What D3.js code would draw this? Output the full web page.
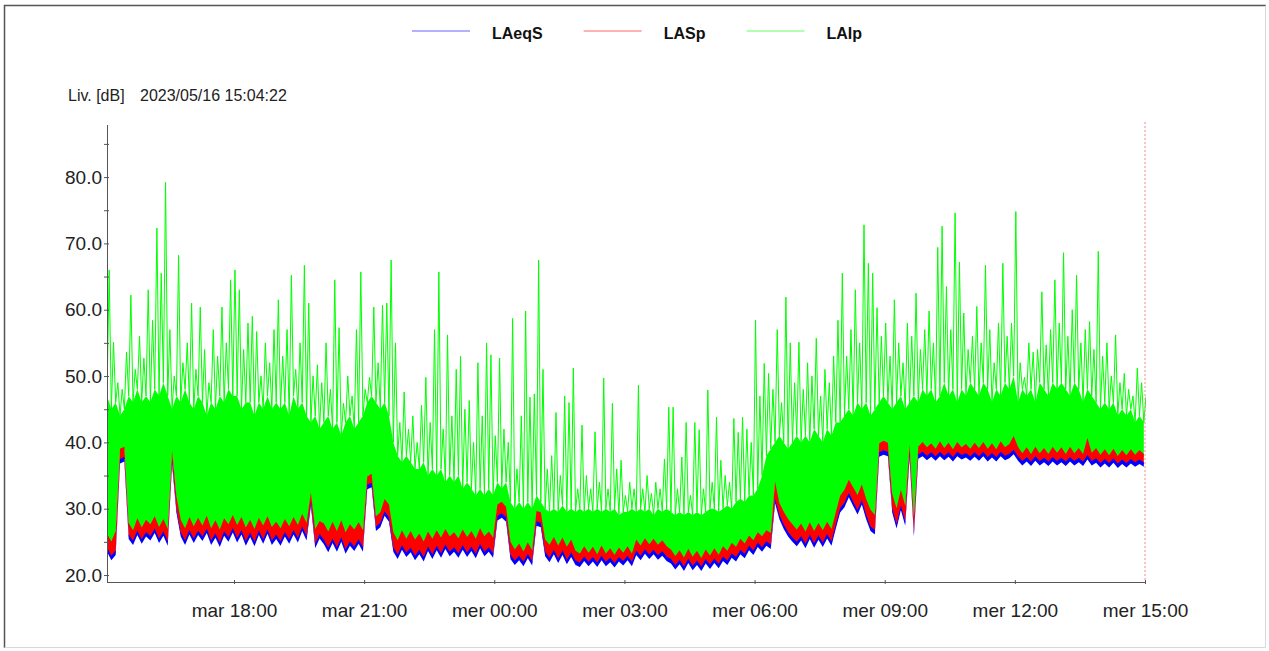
<!DOCTYPE html>
<html>
<head>
<meta charset="utf-8">
<script src="https://cdn.jsdelivr.net/npm/d3@7"></script>
<style>
  body { margin: 0; background: #fff; }
  svg { display: block; font-family: 'Liberation Sans', Arial, sans-serif; }
</style>
</head>
<body>
<script>
// Size of the page
const w = 1269;
const h = 651;

// Series names and colours (legend order)
const seriesNames = ['LAeqS', 'LASp', 'LAIp'];
const seriesColors = ['#0000ff', '#ff0000', '#00ff00'];

// Recording start / end of the time axis, one sample every 6 minutes
const startTime = '2023-05-16 15:04:22';
const endTime = '2023-05-17 15:00:00';
const stepMinutes = 6;
const dayNames = ['dim', 'lun', 'mar', 'mer', 'jeu', 'ven', 'sam'];

// LASp (red), one row per hour
const lasp = [
  25.8, 24.6, 26.2, 38.6, 38.9, 27.4, 26.3, 28.1, 26.7, 27.9,
  27.2, 28.4, 26.8, 28.0, 26.5, 38.3, 31.5, 27.9, 26.6, 28.3,
  26.9, 28.2, 27.0, 28.5, 26.6, 27.8, 26.4, 28.1, 27.2, 28.6,
  27.1, 28.3, 26.7, 27.9, 26.5, 28.2, 27.0, 28.4, 26.8, 27.6,
  26.6, 28.0, 26.9, 28.3, 27.1, 28.8, 27.4, 32.0, 26.5, 27.7,
  27.3, 26.1, 27.6, 26.2, 27.8, 26.0, 27.2, 26.4, 27.5, 26.3,
  34.4, 34.8, 28.4, 29.0, 31.0, 30.2, 26.0, 24.8, 26.3, 25.0,
  26.2, 24.9, 25.8, 24.6, 26.1, 25.0, 26.3, 25.2, 26.5, 25.4,
  26.0, 25.1, 26.4, 25.3, 26.2, 25.0, 26.6, 25.4, 26.1, 25.2,
  30.2, 30.6, 29.8, 24.6, 23.4, 24.3, 23.1, 24.5, 23.3, 29.2,
  29.0, 24.9, 24.1, 25.3, 24.0, 25.2, 23.8, 24.9, 23.2, 22.8,
  23.9, 22.9, 23.8, 22.7, 24.0, 22.8, 23.6, 22.6, 23.7, 22.9,
  23.9, 22.8, 24.9, 24.0, 25.1, 24.2, 25.0, 24.1, 24.8, 23.9,
  23.4, 22.4, 23.3, 22.2, 23.5, 22.3, 23.2, 22.1, 23.4, 22.5,
  23.6, 22.6, 23.9, 23.2, 24.4, 23.8, 25.0, 24.3, 25.5, 24.8,
  26.0, 25.4, 26.3, 25.9, 33.6, 30.4, 29.1, 28.0, 27.2, 26.4,
  27.3, 26.1, 27.5, 26.2, 27.4, 26.3, 27.6, 26.5, 29.0, 31.5,
  32.4, 33.9, 32.8, 31.6, 33.2, 31.0, 29.4, 28.6, 39.4, 39.8,
  39.5, 31.8, 29.6, 32.4, 30.0, 39.2, 28.3, 38.9, 39.6, 38.8,
  39.4, 38.6, 39.7, 38.7, 39.5, 38.5, 39.6, 38.8, 39.3, 38.6,
  39.5, 38.7, 39.6, 38.6, 39.4, 38.5, 39.7, 38.8, 39.3, 40.5,
  38.9, 37.9, 38.8, 37.8, 38.9, 37.9, 38.7, 37.8, 38.9, 38.0,
  38.8, 37.8, 38.9, 37.9, 38.7, 37.8, 40.2, 38.0, 38.7, 37.7,
  38.5, 37.6, 38.6, 37.5, 38.4, 37.6, 38.5, 37.7, 38.4, 37.8
];

// LAeqS (blue)
const laeqs = [
  23.9, 22.6, 23.4, 37.2, 37.5, 25.8, 24.9, 26.4, 25.1, 26.2,
  25.6, 26.7, 25.2, 26.3, 24.8, 37.0, 29.8, 26.2, 24.9, 26.5,
  25.2, 26.4, 25.5, 26.7, 24.9, 26.0, 24.6, 26.3, 25.4, 26.8,
  25.3, 26.5, 24.8, 26.1, 24.7, 26.4, 25.1, 26.6, 24.9, 25.8,
  24.8, 26.2, 25.1, 26.5, 25.3, 27.0, 25.6, 30.8, 24.4, 25.9,
  25.0, 23.8, 25.2, 23.9, 25.4, 23.6, 24.8, 24.0, 25.1, 23.9,
  33.3, 33.6, 27.0, 27.6, 29.3, 28.4, 23.9, 22.8, 24.2, 23.1,
  23.8, 22.6, 23.5, 22.4, 24.0, 22.8, 24.1, 23.0, 24.3, 23.2,
  23.9, 23.0, 24.2, 23.1, 24.0, 22.9, 24.4, 23.2, 23.9, 23.0,
  28.6, 29.0, 28.4, 22.8, 21.9, 22.6, 21.7, 22.9, 21.8, 27.8,
  27.6, 23.2, 22.3, 23.5, 22.2, 23.4, 22.0, 23.1, 21.9, 21.6,
  22.5, 21.7, 22.4, 21.6, 22.6, 21.7, 22.3, 21.5, 22.4, 21.8,
  22.6, 21.7, 23.4, 22.6, 23.6, 22.8, 23.5, 22.7, 23.3, 22.5,
  22.1, 21.2, 22.0, 21.0, 22.2, 21.1, 21.9, 21.0, 22.1, 21.3,
  22.2, 21.4, 22.5, 21.9, 23.0, 22.4, 23.5, 22.9, 24.1, 23.4,
  24.6, 23.9, 24.8, 24.3, 31.2, 28.8, 27.3, 26.2, 25.4, 24.7,
  25.6, 24.4, 25.8, 24.5, 25.7, 24.6, 25.9, 24.8, 27.4, 29.8,
  30.6, 32.1, 30.8, 29.5, 31.0, 28.8, 27.0, 26.5, 38.2, 38.5,
  38.3, 29.8, 27.4, 30.2, 27.8, 38.0, 26.2, 37.9, 38.3, 37.7,
  38.2, 37.6, 38.3, 37.7, 38.2, 37.5, 38.3, 37.8, 38.1, 37.6,
  38.2, 37.6, 38.3, 37.5, 38.1, 37.5, 38.3, 37.7, 38.0, 38.6,
  37.6, 36.9, 37.5, 36.8, 37.6, 36.9, 37.4, 36.8, 37.5, 36.9,
  37.4, 36.8, 37.5, 36.9, 37.4, 36.8, 37.8, 36.9, 37.3, 36.6,
  37.2, 36.6, 37.3, 36.5, 37.1, 36.6, 37.2, 36.7, 37.1, 36.7
];

// LAIp (green): dense level of each sample and its peak
const laipBody = [
  47, 45, 46, 44, 45, 47, 46, 48, 46, 47,
  46, 48, 47, 49, 47, 45, 47, 46, 48, 46,
  45, 47, 46, 44, 46, 45, 47, 46, 48, 47,
  47, 45, 46, 46, 44, 46, 45, 47, 45, 46,
  45, 46, 44, 47, 45, 46, 44, 43, 44, 42,
  43, 44, 42, 43, 41, 43, 44, 42, 43, 44,
  46, 47, 46, 45, 46, 44, 40, 38, 37, 38,
  37, 36, 36, 37, 35, 36, 35, 36, 34, 35,
  34, 35, 33, 34, 33, 32, 33, 32, 33, 32,
  34, 33, 34, 31, 30, 31, 30, 31, 30, 32,
  31, 30, 29.5, 30, 29.5, 30.5, 29.5, 30, 29.5, 30,
  29.5, 30, 29.5, 30, 29.5, 30, 29.5, 30, 29, 29.5,
  29.5, 30, 29.5, 30, 29.5, 30, 29, 30, 29.5, 30,
  29.5, 29, 29.5, 29, 29.5, 29, 29.5, 29, 29.5, 30,
  30, 29.5, 30, 30.5, 30, 31, 31.5, 31, 32, 32,
  33, 35, 38, 39, 40, 41, 40, 39, 40, 41,
  40, 41, 40, 42, 41, 40, 42, 41, 43, 43,
  44, 45, 44, 46, 45, 46, 44, 45, 46, 47,
  46, 45, 46, 47, 45, 46, 47, 46, 48, 47,
  48, 46, 47, 49, 47, 48, 46, 48, 47, 49,
  48, 47, 49, 48, 46, 48, 47, 49, 48, 50,
  46, 48, 47, 48, 46, 49, 48, 47, 49, 48,
  49, 48, 47, 49, 48, 46, 48, 47, 46, 45,
  46, 45, 46, 44, 45, 44, 45, 43, 44, 43
];

const laipPeak = [
  66, 55.1, 49, 48, 53.6, 62.2, 51, 56, 52.7, 63,
  58.4, 72.3, 65.5, 79.2, 57, 50, 68.2, 52, 55, 61,
  51, 60.4, 54, 49, 57, 53, 60.4, 55, 64.5, 66,
  63, 54, 58, 59, 56.7, 50, 55, 52, 57, 61.5,
  53, 57, 65.2, 51, 55, 66.7, 61, 50, 51.7, 49,
  55, 48, 64.5, 57.3, 45.9, 50, 47, 57, 65.7, 48,
  49.8, 60.4, 52, 60.7, 61, 67.5, 55, 43, 47.6, 42,
  44, 40, 45.6, 49.8, 43, 57, 65.7, 42, 56.2, 44,
  51, 53, 45, 46.3, 40, 52, 44, 55, 53.2, 41,
  52.7, 42, 40, 58.7, 36, 44, 59.8, 46.8, 47.3, 67.5,
  51, 36, 38, 44.5, 35, 47, 46, 51.2, 33, 42.6,
  35, 33, 41.6, 34, 49.7, 33, 45.9, 36, 37.3, 32,
  34, 33, 48.6, 33, 35, 32.3, 34, 33, 37.5, 45.3,
  45.3, 33, 37.8, 43, 32, 43, 41.9, 33, 47.9, 34,
  43.8, 37.3, 35, 34, 43.6, 41.5, 43.8, 42, 40, 58.4,
  47, 51.9, 50.4, 48, 57, 46, 61.9, 55, 49, 55.1,
  48, 52, 50, 55.7, 47, 51, 49, 53, 58.4, 65.5,
  53, 57, 63, 55, 72.8, 67, 65.5, 60.3, 56, 58,
  53, 61.5, 55, 52, 58, 56, 62.5, 54, 57, 59.8,
  55, 69.4, 72.6, 63.5, 57, 74.6, 67.2, 59.5, 54, 56,
  60.5, 55, 66.7, 57, 52, 58, 67, 56, 58, 74.8,
  52, 49.8, 55, 53.6, 54, 62.7, 54.7, 57, 64.5, 58,
  68.6, 56, 60, 65.2, 55, 57, 58.2, 54, 68.8, 53,
  55, 50, 56.2, 49, 50.4, 48, 47, 51.2, 49, 46.9
];

// Plot area
const plotLeft = 107;
const plotRight = 1145;
const plotTop = 125;
const plotBottom = 582;

const parseTime = d3.timeParse('%Y-%m-%d %H:%M:%S');
const t0 = parseTime(startTime);
const t1 = parseTime(endTime);
const times = lasp.map((d, i) => d3.timeMinute.offset(t0, i * stepMinutes));

const x = d3.scaleTime().domain([t0, t1]).range([plotLeft, plotRight]);
const y = d3.scaleLinear().domain([18.95, 87.85]).range([plotBottom, plotTop]);

const svg = d3
  .select('body')
  .append('svg')
  .attr('width', w)
  .attr('height', h);

// Sunken frame round the page
svg.append('path')
  .attr('d', `M4.5,${h - 3}V5.5H${w - 3}`)
  .attr('fill', 'none')
  .attr('stroke', '#555')
  .attr('stroke-width', 1.5);
svg.append('path')
  .attr('d', `M${w - 3.5},5.5V${h - 3.5}H4.5`)
  .attr('fill', 'none')
  .attr('stroke', '#d8d8d8')
  .attr('stroke-width', 1);

// Legend
let lx = 412;
seriesNames.forEach((name, k) => {
  svg.append('line')
    .attr('x1', lx).attr('x2', lx + 58)
    .attr('y1', 31).attr('y2', 31)
    .attr('stroke', seriesColors[k])
    .attr('stroke-opacity', 0.6)
    .attr('stroke-width', 1.2);
  const txt = svg.append('text')
    .attr('x', lx + 80)
    .attr('y', 39)
    .attr('font-size', 16)
    .attr('font-weight', 'bold')
    .attr('fill', '#111')
    .text(name);
  lx = lx + 80 + txt.node().getComputedTextLength() + 41;
});

// Title line
svg.append('text')
  .attr('x', 68).attr('y', 101)
  .attr('font-size', 16)
  .attr('fill', '#222')
  .text('Liv. [dB]');
svg.append('text')
  .attr('x', 140).attr('y', 101)
  .attr('font-size', 16)
  .attr('fill', '#222')
  .text(d3.timeFormat('%Y/%m/%d %H:%M:%S')(t0));

// Clip the series to the plot
svg.append('clipPath')
  .attr('id', 'plot-clip')
  .append('rect')
  .attr('x', plotLeft)
  .attr('y', plotTop - 5)
  .attr('width', plotRight - plotLeft + 1)
  .attr('height', plotBottom - plotTop + 5);

const plot = svg.append('g').attr('clip-path', 'url(#plot-clip)');

// LAIp: solid dense band plus the spiky line on top of it
const bandArea = d3.area()
  .x((d, i) => x(times[i]))
  .y0((d, i) => y(lasp[i]))
  .y1(d => y(d));
plot.append('path')
  .datum(laipBody)
  .attr('d', bandArea)
  .attr('fill', seriesColors[2]);

const greenPts = [];
times.forEach((t, i) => {
  greenPts.push([t, laipBody[i]]);
  greenPts.push([d3.timeMinute.offset(t, stepMinutes / 2), laipPeak[i]]);
});
const line = d3.line()
  .x(d => x(d[0]))
  .y(d => y(d[1]));
plot.append('path')
  .datum(greenPts)
  .attr('d', line)
  .attr('fill', 'none')
  .attr('stroke', seriesColors[2])
  .attr('stroke-width', 1);

// LASp: dense red trace reaching down to the LAeqS level
const redBand = d3.area()
  .x((d, i) => x(times[i]))
  .y0((d, i) => y(laeqs[i]))
  .y1(d => y(d) - 3);
plot.append('path')
  .datum(lasp)
  .attr('d', redBand)
  .attr('fill', seriesColors[1]);

// LAeqS: thin blue trace along the bottom
const blueTrace = d3.area()
  .x((d, i) => x(times[i]))
  .y0(d => y(d) + 2.5)
  .y1(d => y(d) - 2);
plot.append('path')
  .datum(laeqs)
  .attr('d', blueTrace)
  .attr('fill', seriesColors[0]);

// Red dotted marker at the end of the recording
svg.append('line')
  .attr('x1', x(t1)).attr('x2', x(t1))
  .attr('y1', 122).attr('y2', plotBottom)
  .attr('stroke', '#f08a8a')
  .attr('stroke-width', 1)
  .attr('stroke-dasharray', '2,2');

// Y axis
const yAxis = d3.axisLeft(y)
  .tickValues(d3.range(20, 86, 5))
  .tickSizeInner(3)
  .tickSizeOuter(0)
  .tickPadding(2)
  .tickFormat(d => (d % 10 === 0 ? d3.format('.1f')(d) : ''));
const gy = svg.append('g')
  .attr('transform', `translate(${plotLeft},0)`)
  .call(yAxis);
gy.select('.domain').attr('d', `M0.5,${plotTop}V${plotBottom}`).attr('stroke', '#555');
gy.selectAll('.tick line').attr('x1', 2).attr('x2', -3).attr('stroke', '#555');
gy.selectAll('.tick text')
  .attr('font-size', 19)
  .attr('font-family', "'Liberation Sans', Arial, sans-serif")
  .attr('fill', '#222');

// X axis
const xAxis = d3.axisBottom(x)
  .ticks(d3.timeHour.every(3))
  .tickSizeInner(3)
  .tickSizeOuter(0)
  .tickFormat(d => dayNames[d.getDay()] + ' ' + d3.timeFormat('%H:%M')(d));
const gx = svg.append('g')
  .attr('transform', `translate(0,${plotBottom})`)
  .call(xAxis);
gx.select('.domain').attr('d', `M${plotLeft},0.5H${plotRight}`).attr('stroke', '#555');
gx.selectAll('.tick line').attr('y1', -2).attr('y2', 2).attr('stroke', '#555');
gx.selectAll('.tick text')
  .attr('y', 35)
  .attr('dy', 0)
  .attr('font-size', 19)
  .attr('font-family', "'Liberation Sans', Arial, sans-serif")
  .attr('fill', '#222');
</script>
</body>
</html>
